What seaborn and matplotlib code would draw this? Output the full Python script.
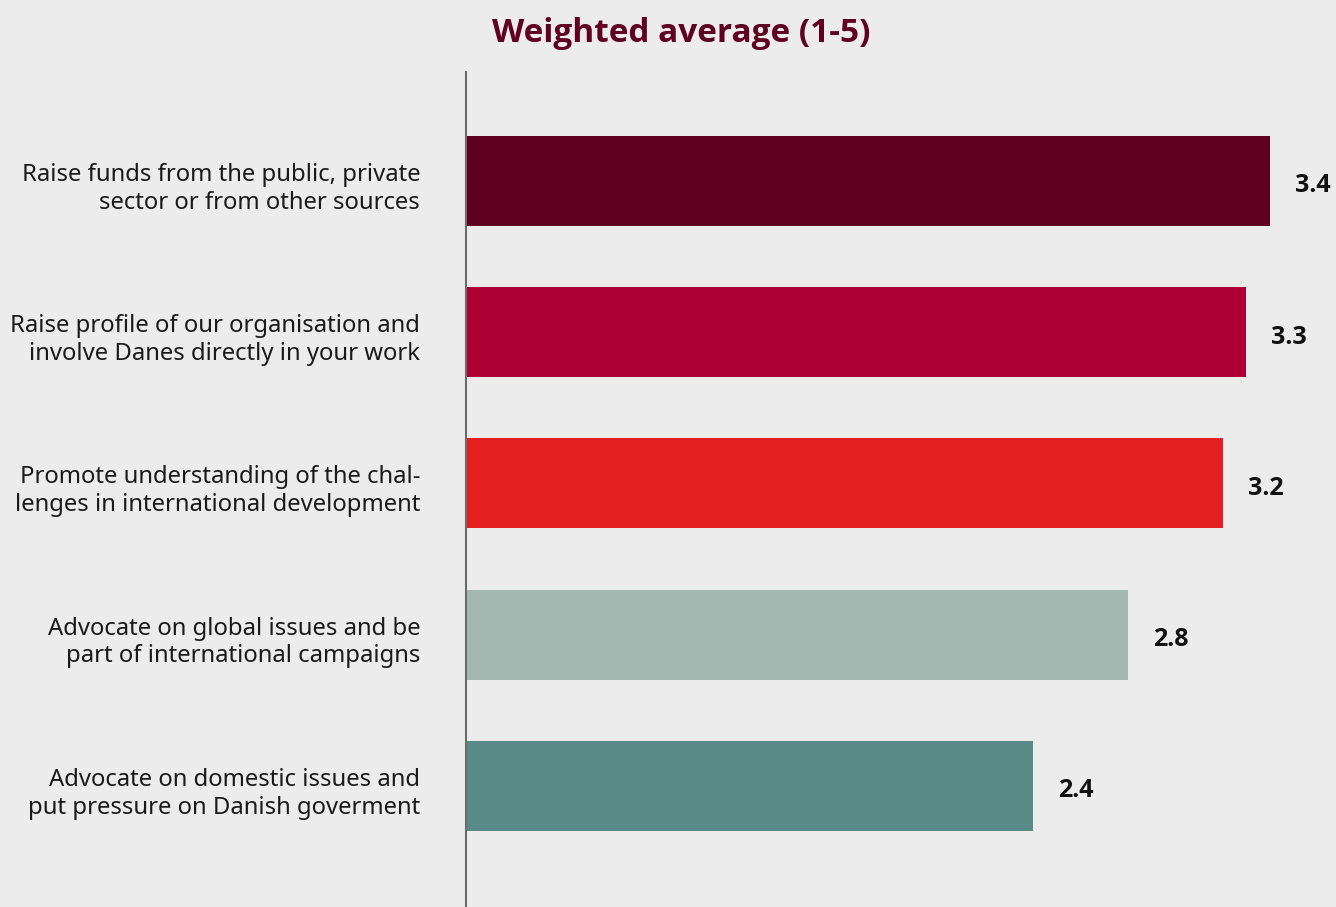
import matplotlib
matplotlib.use("Agg")
import matplotlib.pyplot as plt
import matplotlib.transforms as mtransforms
import seaborn as sns
import pandas as pd

# Survey results: weighted average importance (scale 1-5)
categories = [
    "Raise funds from the public, private\nsector or from other sources",
    "Raise profile of our organisation and\ninvolve Danes directly in your work",
    "Promote understanding of the chal-\nlenges in international development",
    "Advocate on global issues and be\npart of international campaigns",
    "Advocate on domestic issues and\nput pressure on Danish goverment",
]
values = [3.4, 3.3, 3.2, 2.8, 2.4]
bar_colors = ["#5f0020", "#ad0035", "#e41f1f", "#a2b8b0", "#5a8a88"]
title = "Weighted average (1-5)"

bg = "#ececec"
sns.set_theme(style="white")
plt.rcParams["font.family"] = ["Noto Sans", "DejaVu Sans"]
bold_family = ["Open Sans", "DejaVu Sans"]

df = pd.DataFrame({"category": categories, "value": values})

fig = plt.figure(figsize=(13.36, 9.07), dpi=100, facecolor=bg)
ax = fig.add_axes([466 / 1336, 0.0, 1 - 466 / 1336, (907 - 72) / 907])
ax.set_facecolor(bg)

sns.barplot(
    data=df, x="value", y="category", hue="category",
    palette=bar_colors, width=0.595, legend=False, ax=ax,
    saturation=1, edgecolor="none", linewidth=0,
)

ax.set_xlim(0, 3.68)
ax.set_ylim(4.8, -0.72)
ax.set_xlabel("")
ax.set_ylabel("")
ax.set_xticks([])
for s in ["top", "right", "bottom"]:
    ax.spines[s].set_visible(False)
ax.spines["left"].set_color("#6b6b6b")
ax.spines["left"].set_linewidth(1.5)

ax.tick_params(axis="y", length=0, pad=33, labelsize=17.2, labelcolor="#1a1a1a")
shift_down = mtransforms.ScaledTranslation(0, -3 / 100, fig.dpi_scale_trans)
for lbl in ax.get_yticklabels():
    lbl.set_horizontalalignment("right")
    lbl.set_linespacing(1.2)
    lbl.set_transform(lbl.get_transform() + shift_down)

for i, v in enumerate(values):
    ax.annotate(f"{v:.1f}", xy=(v, i), xytext=(25, -5), textcoords="offset pixels",
                ha="left", va="center", fontsize=18, fontweight="bold",
                family=bold_family, color="#111111")

fig.text(681 / 1336, 1 - 34 / 907, title, ha="center", va="center",
         fontsize=24, fontweight="bold", family=bold_family, color="#5f0020")

fig.savefig("out.png", dpi=100, facecolor=bg)
